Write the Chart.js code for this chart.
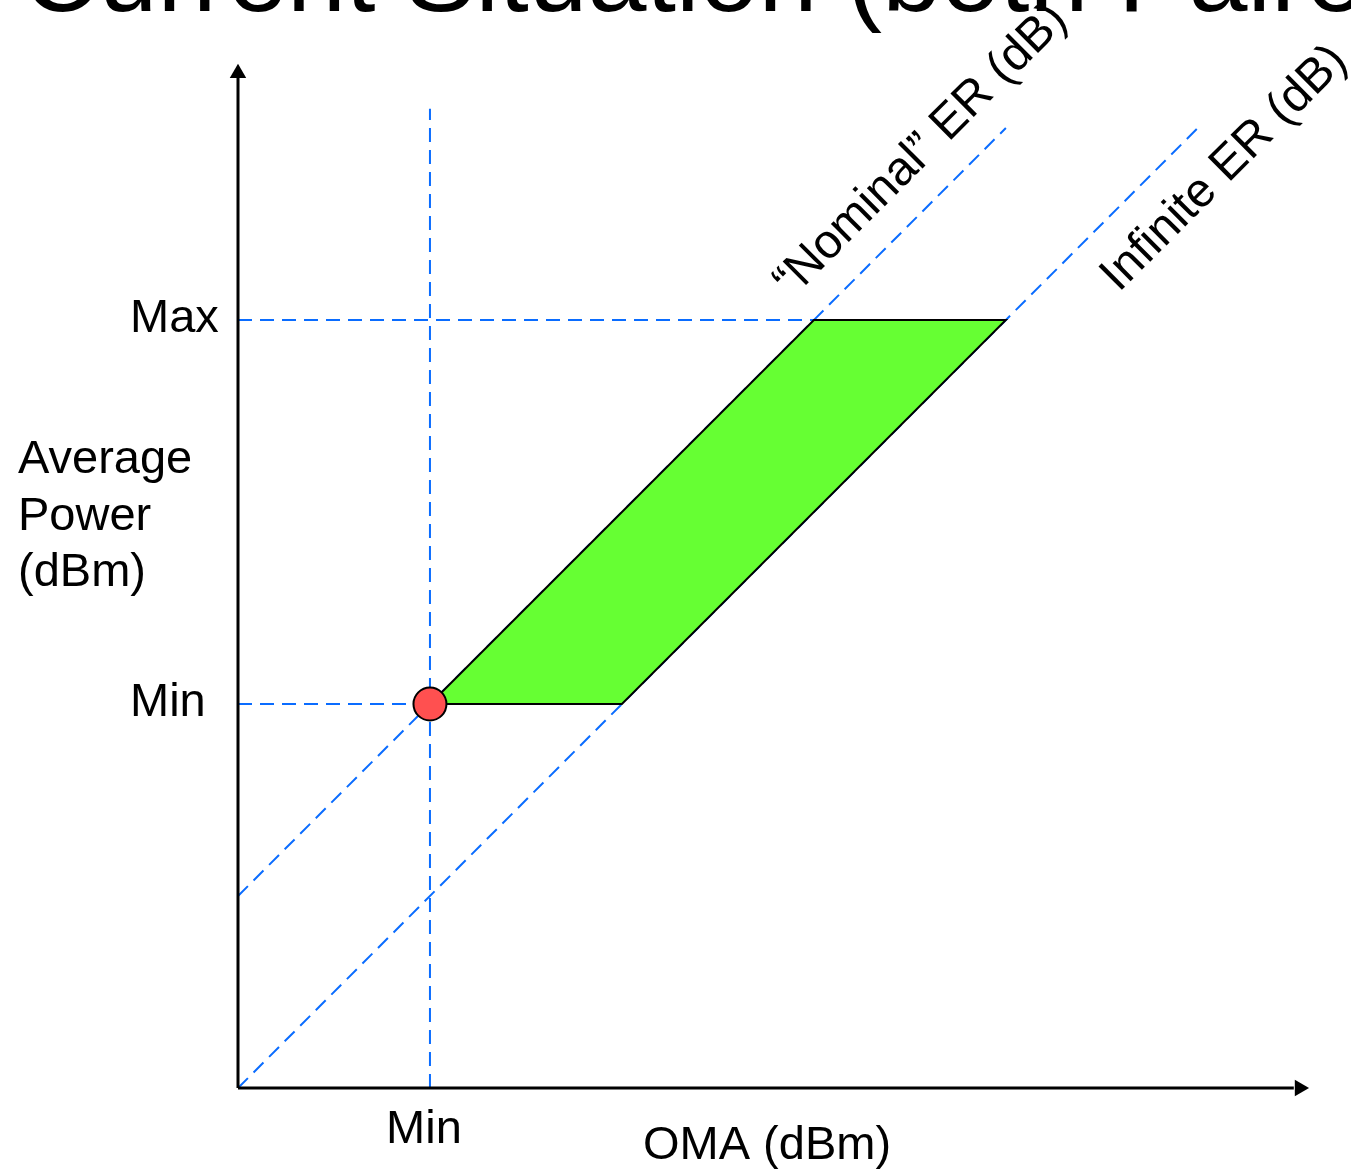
<!DOCTYPE html>
<html>
<head>
<meta charset="utf-8">
<title>Current Situation</title>
<script src="https://cdn.jsdelivr.net/npm/chart.js@4.4.1/dist/chart.umd.min.js"></script>
<style>
  html, body { margin: 0; padding: 0; background: #fff; }
  #wrap { width: 1351px; height: 1170px; position: relative; overflow: hidden; }
</style>
</head>
<body>
<div id="wrap"><canvas id="erChart" width="1351" height="1170"></canvas></div>
<script>
const titleText = 'Current Situation (both Paired)';
const xAxisTitle = 'OMA (dBm)';
const yAxisTitle = ['Average', 'Power', '(dBm)'];

const xTickValues = [1];
const xTickLabels = ['Min'];
const yTickValues = [2, 4];
const yTickLabels = ['Min', 'Max'];

// allowed OMA / average power region
const regionX = [1, 3, 4, 2, 1];
const regionY = [2, 4, 4, 2, 2];

const nominalX = [0, 4];
const nominalY = [1, 5];
const nominalLabel = '\u201CNominal\u201D ER (dB)';
const infiniteX = [0, 5];
const infiniteY = [0, 5];
const infiniteLabel = 'Infinite ER (dB)';

const cornerPoint = [1, 2];
const axisEndX = 5.5;
const axisEndY = 5.26;
const guideTop = 5.1;

const BLUE = '#0a6cff';
const FONT = '"Liberation Sans", Arial, sans-serif';

const toPts = (xs, ys) => xs.map((x, i) => ({ x: x, y: ys[i] }));

// x on the nominal ER line for a given average power
function nominalXAt(y) {
  const slope = (nominalY[1] - nominalY[0]) / (nominalX[1] - nominalX[0]);
  return nominalX[0] + (y - nominalY[0]) / slope;
}

const dashed = (data) => ({
  data: data,
  showLine: true,
  borderColor: BLUE,
  borderWidth: 2,
  borderDash: [14, 8],
  pointRadius: 0,
  fill: false,
  order: 5
});

const datasets = [
  dashed(toPts(nominalX, nominalY)),
  dashed(toPts(infiniteX, infiniteY)),
  dashed([{ x: xTickValues[0], y: 0 }, { x: xTickValues[0], y: guideTop }]),
  ...yTickValues.map(v => dashed([{ x: 0, y: v }, { x: nominalXAt(v), y: v }])),
  {
    data: toPts(regionX, regionY),
    showLine: true,
    borderColor: '#000',
    borderWidth: 2,
    backgroundColor: '#66ff33',
    fill: 'shape',
    pointRadius: 0,
    order: 3
  },
  {
    data: [{ x: 0, y: 0 }, { x: 0, y: axisEndY }],
    showLine: true, borderColor: '#000', borderWidth: 3, pointRadius: 0, order: 2
  },
  {
    data: [{ x: 0, y: 0 }, { x: axisEndX, y: 0 }],
    showLine: true, borderColor: '#000', borderWidth: 3, pointRadius: 0, order: 2
  },
  {
    data: [{ x: 0, y: 5.285 }],
    pointStyle: 'triangle', rotation: 0, pointRadius: 9.5,
    backgroundColor: '#000', borderColor: '#000', borderWidth: 0, order: 1
  },
  {
    data: [{ x: 5.53, y: 0 }],
    pointStyle: 'triangle', rotation: 90, pointRadius: 9.5,
    backgroundColor: '#000', borderColor: '#000', borderWidth: 0, order: 1
  },
  {
    data: [{ x: cornerPoint[0], y: cornerPoint[1] }],
    pointRadius: 16.5, backgroundColor: '#ff5050', borderColor: '#000', borderWidth: 2, order: 0
  }
];
datasets.forEach(ds => { ds.clip = false; });

const labelPlugin = {
  id: 'labels',
  afterDraw(chart) {
    const ctx = chart.ctx;
    const sx = chart.scales.x;
    const sy = chart.scales.y;
    const area = chart.chartArea;
    ctx.save();
    ctx.fillStyle = '#000';
    ctx.textBaseline = 'alphabetic';

    ctx.font = '106px ' + FONT;
    ctx.textAlign = 'left';
    ctx.fillText(titleText, 22, 11);

    ctx.font = '47px ' + FONT;
    yTickValues.forEach((v, i) => {
      ctx.fillText(yTickLabels[i], area.left - 108, sy.getPixelForValue(v) + 12);
    });
    yAxisTitle.forEach((line, i) => {
      ctx.fillText(line, 18, 473 + i * 56.5);
    });

    ctx.textAlign = 'center';
    xTickValues.forEach((v, i) => {
      ctx.fillText(xTickLabels[i], sx.getPixelForValue(v) - 6, area.bottom + 55);
    });
    ctx.fillText(xAxisTitle, 767, area.bottom + 71);

    ctx.textAlign = 'left';
    ctx.font = '48px ' + FONT;
    const rotated = (text, x, y) => {
      ctx.save();
      ctx.translate(x, y);
      ctx.rotate(-Math.PI / 4);
      ctx.fillText(text, 0, 0);
      ctx.restore();
    };
    rotated(nominalLabel, sx.getPixelForValue(3) - 22, sy.getPixelForValue(4) - 21);
    rotated(infiniteLabel, sx.getPixelForValue(4) + 113, sy.getPixelForValue(4) - 27);
    ctx.restore();
  }
};

const erChart = new Chart(document.getElementById('erChart').getContext('2d'), {
  type: 'scatter',
  data: { datasets: datasets },
  options: {
    responsive: false,
    animation: false,
    devicePixelRatio: 1,
    layout: { padding: { left: 238, top: 32, right: 38, bottom: 82 } },
    elements: { line: { tension: 0, borderCapStyle: 'butt' } },
    scales: {
      x: { type: 'linear', min: 0, max: 5.6, display: false },
      y: { type: 'linear', min: 0, max: 5.5, display: false }
    },
    plugins: {
      legend: { display: false },
      tooltip: { enabled: false }
    }
  },
  plugins: [labelPlugin]
});
</script>
</body>
</html>
